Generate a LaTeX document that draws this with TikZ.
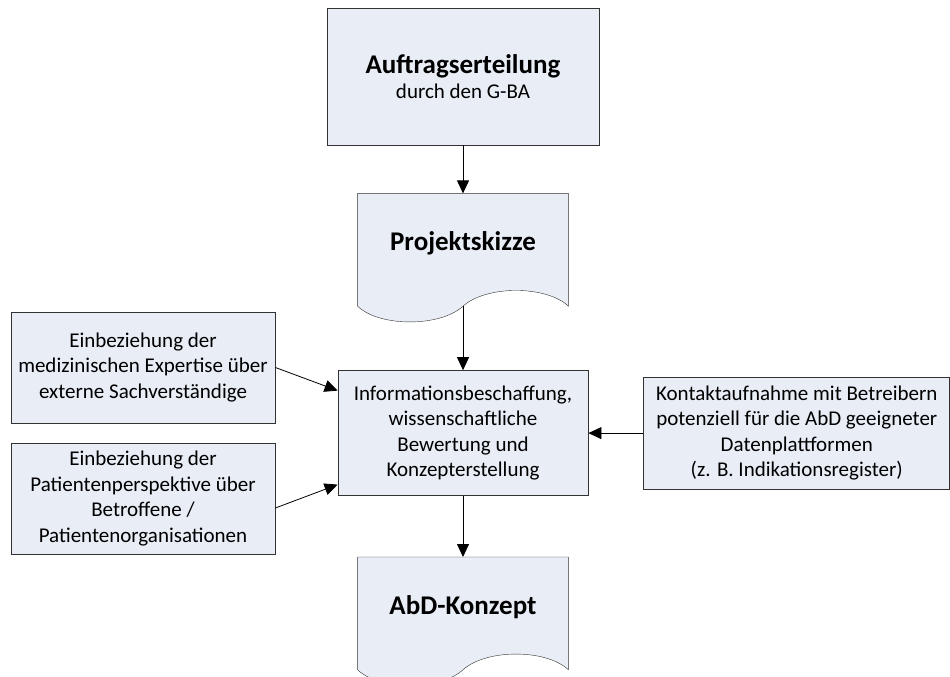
\documentclass[tikz,border=0pt]{standalone}
\usepackage{fontspec}
\setmainfont{Carlito}
\usepackage{tikz}
\usetikzlibrary{positioning}
\usetikzlibrary{arrows.meta}
\usetikzlibrary{backgrounds}
\definecolor{boxfill}{RGB}{232,237,246}
\definecolor{boxline}{RGB}{50,50,50}
\tikzset{main box/.style={rectangle,fill=boxfill,draw=boxline,line width=0.8pt,align=center,inner sep=0pt,font=\fontsize{21}{25.5}\selectfont},
  doc box/.style={rectangle,inner sep=0pt,minimum width=210pt,text height=57pt,text depth=55pt,font=\fontsize{27}{31}\selectfont\bfseries},}

\begin{document}
\begin{tikzpicture}[x=1pt, y=-1pt, ->, >={Triangle[length=13pt,width=12pt]}, line width=0.8pt]
    \useasboundingbox (0,0) rectangle (950,677);
    \node[main box, minimum width=272pt, minimum height=137pt] (auftrag) at (463,76.5) {{\fontsize{27}{27}\selectfont\bfseries Auftragserteilung}\\durch den G-BA};
    \node[doc box] (skizze) [below=48pt of auftrag] {Projektskizze};
    \node[main box, minimum width=250pt, minimum height=125pt] (info) [below=64pt of skizze] {Informationsbeschaffung,\\wissenschaftliche\\Bewertung und\\Konzepterstellung};
    \node[doc box] (abd) [below=61pt of info] {AbD-Konzept};
    \node[main box, minimum width=264pt, minimum height=111pt] (expert) at (143,367.5) {Einbeziehung der\\medizinischen Expertise über\\externe Sachverständige};
    \node[main box, minimum width=264pt, minimum height=111pt] (patient) at (143,498.5) {Einbeziehung der\\Patientenperspektive über\\Betroffene /\\Patientenorganisationen};
    \node[main box, minimum width=306pt, minimum height=112pt] (kontakt) [right=55pt of info] {Kontaktaufnahme mit Betreibern\\potenziell für die AbD geeigneter\\Datenplattformen\\(z. B. Indikationsregister)};

    % document outlines with wavy bottom
    \begin{scope}[on background layer]
    \foreach \n in {skizze,abd}
        \draw[-, fill=boxfill, draw=boxline] (\n.north west) -- (\n.north east) -- (\n.south east)
            .. controls +(-22,-21) and +(23,-21) .. (\n.south)
            .. controls +(-23,21) and +(22,21) .. (\n.south west) -- cycle;
    \end{scope}

    \path
    (auftrag) edge (skizze)
    (skizze.south) edge (info)
    (info) edge (abd)
    (expert.east) edge ([yshift=42.5pt]info.west)
    ([yshift=-9.5pt]patient.east) edge ([yshift=-51.5pt]info.west)
    (kontakt.west) edge (kontakt.west -| info.east);
\end{tikzpicture}
\end{document}
